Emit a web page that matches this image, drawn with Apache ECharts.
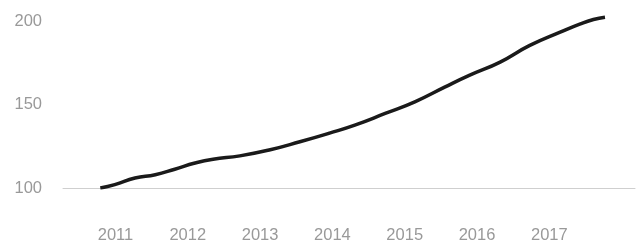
<!DOCTYPE html>
<html>
<head>
<meta charset="utf-8">
<script src="https://cdn.jsdelivr.net/npm/echarts@6/dist/echarts.min.js"></script>
<style>
  html, body { margin: 0; padding: 0; background: #fff; }
  #main { width: 637px; height: 247px; }
</style>
</head>
<body>
<div id="main"></div>
<script>
// 时间点（年，小数表示年内位置）
var years = [2010.79, 2010.99, 2011.27, 2011.55, 2011.82, 2012.10, 2012.35, 2012.72,
  2013.14, 2013.55, 2013.96, 2014.31, 2014.73, 2015.14, 2015.56, 2015.90,
  2016.32, 2016.73, 2017.15, 2017.43, 2017.61, 2017.77];
var values = [100, 102, 106, 108, 111.3, 115, 117.3, 119.3,
  123, 127.8, 133, 137.8, 144.8, 151.8, 160.8, 167.8,
  175.7, 185.7, 193.7, 198.7, 201.3, 202.7];
var yearLabels = [2011, 2012, 2013, 2014, 2015, 2016, 2017];
var valueLabels = [100, 150, 200];

var chart = echarts.init(document.getElementById('main'), null, { renderer: 'canvas' });

var points = [];
for (var i = 0; i < years.length; i++) {
  points.push([years[i], values[i]]);
}

var option = {
  animation: false,
  grid: {
    left: 63,
    right: 2,
    top: 5,
    bottom: 59
  },
  xAxis: {
    type: 'value',
    min: 2010.274,
    max: 2018.185,
    splitLine: { show: false },
    axisTick: { show: false },
    axisLine: {
      show: true,
      lineStyle: { color: '#cfcfcf', width: 1 }
    },
    axisLabel: {
      customValues: yearLabels,
      formatter: function (v) { return String(Math.round(v)); },
      margin: 39,
      color: '#999',
      fontFamily: 'Liberation Sans',
      fontSize: 16.5
    }
  },
  yAxis: {
    type: 'value',
    min: 100,
    max: 210,
    splitLine: { show: false },
    axisTick: { show: false },
    axisLine: { show: false },
    axisLabel: {
      customValues: valueLabels,
      margin: 21,
      color: '#999',
      fontFamily: 'Liberation Sans',
      fontSize: 16.5
    }
  },
  series: [{
    type: 'line',
    data: points,
    smooth: 0.5,
    showSymbol: false,
    lineStyle: { color: '#1a1a1a', width: 3.5 }
  }]
};

chart.setOption(option);
</script>
</body>
</html>
